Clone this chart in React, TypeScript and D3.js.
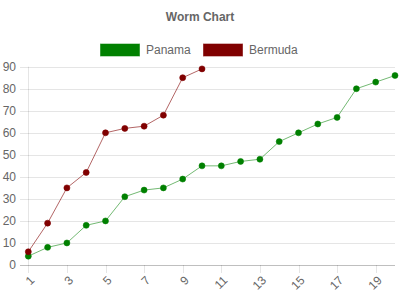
import React from "react";
import * as d3 from "d3";

const categories = Array.from({ length: 20 }, (_, i) => String(i + 1));
const panama = [4, 8, 10, 18, 20, 31, 34, 35, 39, 45, 45, 47, 48, 56, 60, 64, 67, 80, 83, 86];
const bermuda = [6, 19, 35, 42, 60, 62, 63, 68, 85, 89];
const yTicks = [0, 10, 20, 30, 40, 50, 60, 70, 80, 90];
const seriesNames = ["Panama", "Bermuda"];

const W = 400, H = 300;
const left = 28.3, right = 395, top = 66.7, bottom = 265;
const font = "'Liberation Sans', Arial, Helvetica, sans-serif";
const txt = "#666";

export default function App() {
  const x = d3.scalePoint<string>().domain(categories).range([left, right]);
  const y = d3.scaleLinear().domain([0, 90]).range([bottom, top]);
  const line = d3.line<number>().x((_, i) => x(categories[i])!).y((d) => y(d));
  const series = [
    { name: seriesNames[0], data: panama, fill: "#008000", stroke: "rgba(0,128,0,0.55)" },
    { name: seriesNames[1], data: bermuda, fill: "#800000", stroke: "rgba(128,0,0,0.6)" },
  ];
  const legend = [
    { x: 100, tx: 146 },
    { x: 203, tx: 249 },
  ];
  return (
    <svg width={W} height={H} style={{ position: "absolute", left: 0, top: 0 }} fontFamily={font}>
      <rect width={W} height={H} fill="#fff" />
      <text x={200} y={21} textAnchor="middle" fontSize={12} fontWeight="bold" fill={txt}>Worm Chart</text>
      {series.map((s, i) => (
        <g key={s.name}>
          <rect x={legend[i].x + 0.5} y={44} width={39} height={12} fill={s.fill} stroke={s.stroke} strokeWidth={1} />
          <text x={legend[i].tx} y={54} fontSize={12} fill={txt}>{s.name}</text>
        </g>
      ))}
      {yTicks.map((t) => (
        <g key={t}>
          <line x1={20} x2={right} y1={Math.round(y(t)) + 0.5} y2={Math.round(y(t)) + 0.5}
            stroke={t === 0 ? "rgba(0,0,0,0.25)" : "rgba(0,0,0,0.1)"} />
          <text x={16} y={y(t)} dy="0.35em" textAnchor="end" fontSize={12} fill={txt}>{t}</text>
        </g>
      ))}
      <line x1={Math.round(left) + 0.5} x2={Math.round(left) + 0.5} y1={top} y2={bottom} stroke="rgba(0,0,0,0.1)" />
      {categories.map((c, i) =>
        i % 2 === 0 ? (
          <g key={c}>
            <line x1={Math.round(x(c)!) + 0.5} x2={Math.round(x(c)!) + 0.5} y1={bottom} y2={273} stroke="rgba(0,0,0,0.1)" />
            <text transform={`translate(${x(c)! + 4},${278}) rotate(-45)`} textAnchor="end" dy="0.35em" fontSize={12} fill={txt}>{c}</text>
          </g>
        ) : null
      )}
      {series.map((s) => (
        <g key={s.name}>
          <path d={line(s.data)!} fill="none" stroke={s.stroke} strokeWidth={1} />
          {s.data.map((v, i) => (
            <circle key={i} cx={x(categories[i])!} cy={y(v)} r={3} fill={s.fill} stroke={s.stroke} strokeWidth={1} />
          ))}
        </g>
      ))}
    </svg>
  );
}
